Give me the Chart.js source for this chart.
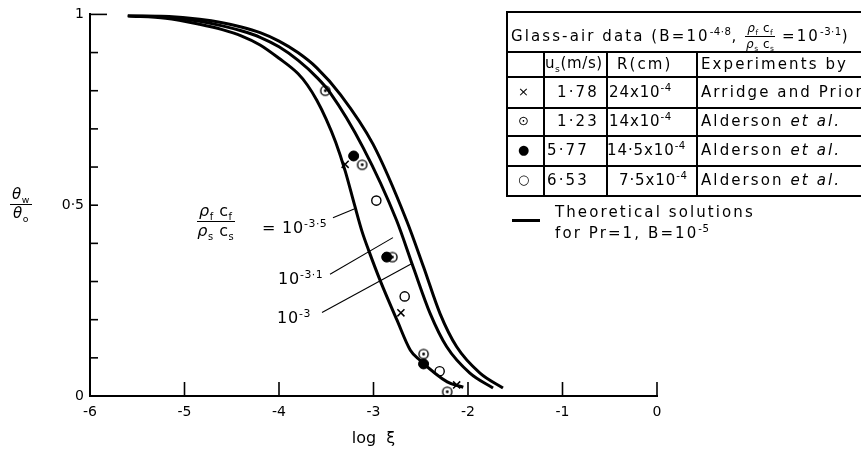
<!DOCTYPE html>
<html><head><meta charset="utf-8">
<script src="https://cdn.jsdelivr.net/npm/chart.js@4/dist/chart.umd.min.js"></script>
<style>
body{margin:0;background:#fff;}
#wrap{position:relative;width:861px;height:454px;overflow:hidden;background:#fff;}
#c{position:absolute;left:0;top:0;}
.frac{display:inline-block;vertical-align:middle;text-align:center;line-height:1.05;letter-spacing:0.5px;}
.frac .n{display:block;border-bottom:1.5px solid #000;padding:0 2px 1px;}
.frac .d{display:block;padding-top:1px;}
sup{font-size:0.68em;vertical-align:0.55em;line-height:0;letter-spacing:0.5px;}
sub{font-size:0.62em;line-height:0;}
.tb{position:absolute;background:#000;}
.cell{position:absolute;font-family:"DejaVu Sans",sans-serif;font-size:15px;letter-spacing:2.1px;line-height:1;white-space:nowrap;color:#000;}
</style></head>
<body>
<div id="wrap">
<canvas id="c" width="861" height="454"></canvas>
</div>
<script>
// ---- data ----
const xTicks = [-6, -5, -4, -3, -2, -1, 0];
const yTickLabels = {"0": "0", "0.5": "0·5", "1": "1"};

// theoretical curves (log xi, theta_w/theta_o)
const curve35X = [-5.6, -5.2, -4.84, -4.6, -4.4, -4.2, -4.0, -3.8, -3.7, -3.6, -3.5, -3.4, -3.3, -3.2, -3.12, -3.05, -2.93, -2.75, -2.61, -2.51, -2.22, -2.05];
const curve35Y = [0.996, 0.99, 0.974, 0.96, 0.944, 0.92, 0.885, 0.845, 0.815, 0.775, 0.725, 0.665, 0.59, 0.50, 0.43, 0.381, 0.303, 0.198, 0.12, 0.094, 0.037, 0.023];
const curve31X = [-5.6, -5.2, -4.84, -4.6, -4.4, -4.2, -4.0, -3.8, -3.6, -3.46, -3.11, -2.755, -2.58, -2.40, -2.225, -1.98, -1.735];
const curve31Y = [0.997, 0.993, 0.982, 0.97, 0.957, 0.94, 0.915, 0.88, 0.835, 0.795, 0.651, 0.46, 0.338, 0.216, 0.129, 0.06, 0.021];
const curve30X = [-5.6, -5.2, -4.84, -4.6, -4.4, -4.2, -4.0, -3.8, -3.6, -3.35, -3.005, -2.65, -2.47, -2.296, -2.12, -1.873, -1.63];
const curve30Y = [0.998, 0.995, 0.987, 0.978, 0.967, 0.952, 0.93, 0.9, 0.86, 0.79, 0.66, 0.46, 0.338, 0.216, 0.129, 0.06, 0.021];

// experiments
const arridgeX = [-3.30, -2.71, -2.12];
const arridgeY = [0.607, 0.218, 0.029];
const alderson123X = [-3.51, -3.12, -2.80, -2.47, -2.22];
const alderson123Y = [0.80, 0.606, 0.364, 0.110, 0.011];
const alderson577X = [-3.21, -2.86, -2.47];
const alderson577Y = [0.629, 0.364, 0.084];
const alderson653X = [-2.97, -2.67, -2.30];
const alderson653Y = [0.512, 0.261, 0.065];

// leader lines from the curve labels (data units)
const leader35 = [[-3.429, 0.467], [-3.205, 0.49]];
const leader31 = [[-3.46, 0.319], [-2.794, 0.415]];
const leader30 = [[-3.545, 0.219], [-2.593, 0.347]];

const pts = (xs, ys) => xs.map((x, i) => ({x: x, y: ys[i]}));

// dotted-circle marker
const dotC = document.createElement('canvas');
dotC.width = 13; dotC.height = 13;
(function(){const g = dotC.getContext('2d');g.lineWidth = 1.4;g.strokeStyle='#000';
 g.beginPath();g.arc(6.5,6.5,4.6,0,Math.PI*2);g.stroke();
 g.fillStyle='#000';g.beginPath();g.arc(6.5,6.5,1.4,0,Math.PI*2);g.fill();})();

const lineDs = (label, xs, ys) => ({label, data: pts(xs, ys), showLine: true, borderColor: '#000', borderWidth: 3,
  pointRadius: 0, cubicInterpolationMode: 'monotone', fill: false});

const extras = {
  id: 'extras',
  afterDraw(chart) {
    const {ctx, scales: {x, y}, chartArea: a} = chart;
    ctx.save();
    ctx.strokeStyle = '#000';
    ctx.lineWidth = 1.6;
    xTicks.forEach(v => { if (v === -6) return; const px = x.getPixelForValue(v);
      ctx.beginPath(); ctx.moveTo(px, a.bottom); ctx.lineTo(px, a.bottom - 14); ctx.stroke(); });
    for (let i = 1; i <= 10; i++) { const py = y.getPixelForValue(i / 10);
      ctx.beginPath(); ctx.moveTo(a.left, py); ctx.lineTo(a.left + (i === 10 ? 17 : 8), py); ctx.stroke(); }
    ctx.lineWidth = 1.1;
    [leader35, leader31, leader30].forEach(l => { ctx.beginPath();
      ctx.moveTo(x.getPixelForValue(l[0][0]), y.getPixelForValue(l[0][1]));
      ctx.lineTo(x.getPixelForValue(l[1][0]), y.getPixelForValue(l[1][1])); ctx.stroke(); });
    ctx.restore();
  }
};

new Chart(document.getElementById('c'), {
  type: 'scatter',
  data: { datasets: [
    lineDs('10^-3.5', curve35X, curve35Y),
    lineDs('10^-3.1', curve31X, curve31Y),
    lineDs('10^-3', curve30X, curve30Y),
    {label: 'Arridge and Prior', data: pts(arridgeX, arridgeY), pointStyle: 'crossRot', pointRadius: 5, borderColor: '#000', borderWidth: 1.5},
    {label: 'Alderson 1.23', data: pts(alderson123X, alderson123Y), pointStyle: dotC, pointRadius: 6},
    {label: 'Alderson 5.77', data: pts(alderson577X, alderson577Y), pointStyle: 'circle', pointRadius: 5, backgroundColor: '#000', borderColor: '#000', borderWidth: 1},
    {label: 'Alderson 6.53', data: pts(alderson653X, alderson653Y), pointStyle: 'circle', pointRadius: 4.6, backgroundColor: '#fff', borderColor: '#000', borderWidth: 1.4}
  ]},
  options: {
    responsive: false, animation: false, devicePixelRatio: 1,
    layout: {padding: {left: 0, right: 204, top: 13, bottom: 0}},
    plugins: {legend: {display: false}, tooltip: {enabled: false}},
    scales: {
      x: {type: 'linear', min: -6, max: 0,
        afterFit(s) { s.height = 58; },
        grid: {display: false, drawTicks: false},
        border: {display: true, color: '#000', width: 2},
        ticks: {stepSize: 1, color: '#000', padding: 8, font: {family: 'DejaVu Sans', size: 14}},
        title: {display: true, text: 'log  ξ', color: '#000', font: {family: 'DejaVu Sans', size: 16}, padding: {top: 0, bottom: 6}}
      },
      y: {type: 'linear', min: 0, max: 1,
        afterFit(s) { s.width = 90; },
        grid: {display: false, drawTicks: false},
        border: {display: true, color: '#000', width: 2},
        ticks: {stepSize: 0.1, color: '#000', padding: 6, font: {family: 'DejaVu Sans', size: 14},
          callback: v => { for (const k in yTickLabels) { if (Math.abs(v - Number(k)) < 1e-6) return yTickLabels[k]; } return ''; }}
      }
    }
  },
  plugins: [extras]
});

// ---- text overlays: legend table and labels ----
const wrap = document.getElementById('wrap');
function add(html, style) { const d = document.createElement('div'); d.className = 'cell'; d.innerHTML = html;
  Object.assign(d.style, style); wrap.appendChild(d); return d; }
function line(l, t, w, h) { const d = document.createElement('div'); d.className = 'tb';
  Object.assign(d.style, {left: l + 'px', top: t + 'px', width: w + 'px', height: h + 'px'}); wrap.appendChild(d); }

const tblLeft = 506, tblRight = 861;
const rowYs = [11, 51, 76, 107, 135, 165, 195];
const colXs = [506, 543, 606, 696];
rowYs.forEach(yy => line(tblLeft, yy, tblRight - tblLeft, 1.6));
line(506, 11, 1.6, 195 - 11);
colXs.slice(1).forEach(xx => line(xx, 51, 1.6, 195 - 51));

const fracHTML = (size) => '<span class="frac" style="font-size:' + size + 'px"><span class="n"><i>ρ</i><sub>f</sub> c<sub>f</sub></span><span class="d"><i>ρ</i><sub>s</sub> c<sub>s</sub></span></span>';

add('Glass-air data (B=10<sup>-4·8</sup>, ' + fracHTML(12) + ' =10<sup>-3·1</sup>)', {left: '511px', top: '22px', letterSpacing: '2.1px'});
add('u<sub>s</sub>(m/s)', {left: '545px', top: '56px', letterSpacing: '0.6px'});
add('R(cm)', {left: '617px', top: '57px'});
add('Experiments by', {left: '701px', top: '57px'});

const rows = [
  ['×', '1·78', '24x10<sup>-4</sup>', 'Arridge and Prior', 557, 609],
  ['⊙', '1·23', '14x10<sup>-4</sup>', 'Alderson <i>et al.</i>', 557, 609],
  ['●', '5·77', '14·5x10<sup>-4</sup>', 'Alderson <i>et al.</i>', 547, 607],
  ['○', '6·53', '7·5x10<sup>-4</sup>', 'Alderson <i>et al.</i>', 547, 619]
];
rows.forEach((r, i) => {
  const top = rowYs[i + 2], h = rowYs[i + 3] - top, cy = top + h / 2 - 7;
  add(r[0], {left: '518px', top: cy + 'px', fontSize: '13px', letterSpacing: '0'});
  add(r[1], {left: r[4] + 'px', top: cy + 'px'});
  add(r[2], {left: r[5] + 'px', top: cy + 'px', letterSpacing: '0.9px'});
  add(r[3], {left: '701px', top: cy + 'px'});
});

line(512, 219, 28, 3);
add('Theoretical solutions', {left: '555px', top: '205px'});
add('for Pr=1, B=10<sup>-5</sup>', {left: '555px', top: '226px'});

// curve labels
add(fracHTML(16), {left: '197px', top: '203px', letterSpacing: '1px'});
add('= 10<sup>-3·5</sup>', {left: '262px', top: '220px', fontSize: '16px', letterSpacing: '0.8px'});
add('10<sup>-3·1</sup>', {left: '278px', top: '271px', fontSize: '16px', letterSpacing: '0.8px'});
add('10<sup>-3</sup>', {left: '277px', top: '310px', fontSize: '16px', letterSpacing: '0.8px'});

// y axis title
add('<span class="frac" style="font-size:15px"><span class="n"><i>θ</i><sub>w</sub></span><span class="d"><i>θ</i><sub>o</sub></span></span>', {left: '10px', top: '187px', letterSpacing: '0'});
</script>
</body></html>
